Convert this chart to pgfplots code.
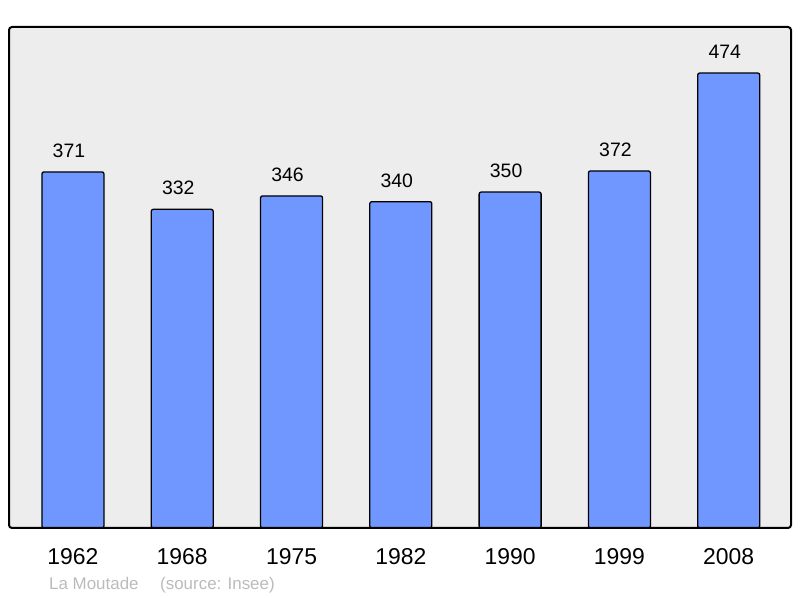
\documentclass[border=0pt]{standalone}
\usepackage{pgfplots}
\pgfplotsset{compat=1.18}
\usepackage{fontspec}
\setmainfont{Liberation Sans}
\definecolor{barblue}{HTML}{7097FF}
\definecolor{panel}{HTML}{EDEDED}
\definecolor{capgray}{HTML}{BBBBBB}
\begin{document}
\begin{tikzpicture}[x=1bp,y=1bp]
\useasboundingbox (0,0) rectangle (800,598);
\begin{axis}[
  at={(9bp,70bp)}, anchor=south west,
  scale only axis, width=782bp, height=501bp,
  xmin=-0.585, xmax=6.57, ymin=0, ymax=522,
  axis line style={draw=none},
  axis background/.style={fill=panel},
  ytick=\empty,
  xtick=data,
  xticklabels={1962,1968,1975,1982,1990,1999,2008},
  major tick length=0pt,
  xticklabel style={font=\fontsize{23}{23}\selectfont, anchor=base, yshift=-37bp},
  /pgf/number format/assume math mode=true,
  ybar, bar width=62bp,
  nodes near coords,
  every node near coord/.append style={font=\fontsize{19.5}{19.5}\selectfont, anchor=base, yshift=14.5bp, xshift=-4bp},
  clip=false,
]
\addplot[fill=barblue, draw=black, line width=1.3bp, rounded corners=2bp] coordinates {
(0,371) (1,332) (2,346) (3,340) (4,350) (5,372) (6,474)
};
\draw[line width=2bp, rounded corners=3bp] (rel axis cs:0,0) rectangle (rel axis cs:1,1);
\end{axis}
\node[anchor=base west, inner sep=0pt, text=capgray, font=\fontsize{17}{17}\selectfont] at (49,8) {La Moutade};
\node[anchor=base west, inner sep=0pt, text=capgray, font=\fontsize{17}{17}\selectfont] at (160,8) {(source: Insee)};
\end{tikzpicture}
\end{document}
